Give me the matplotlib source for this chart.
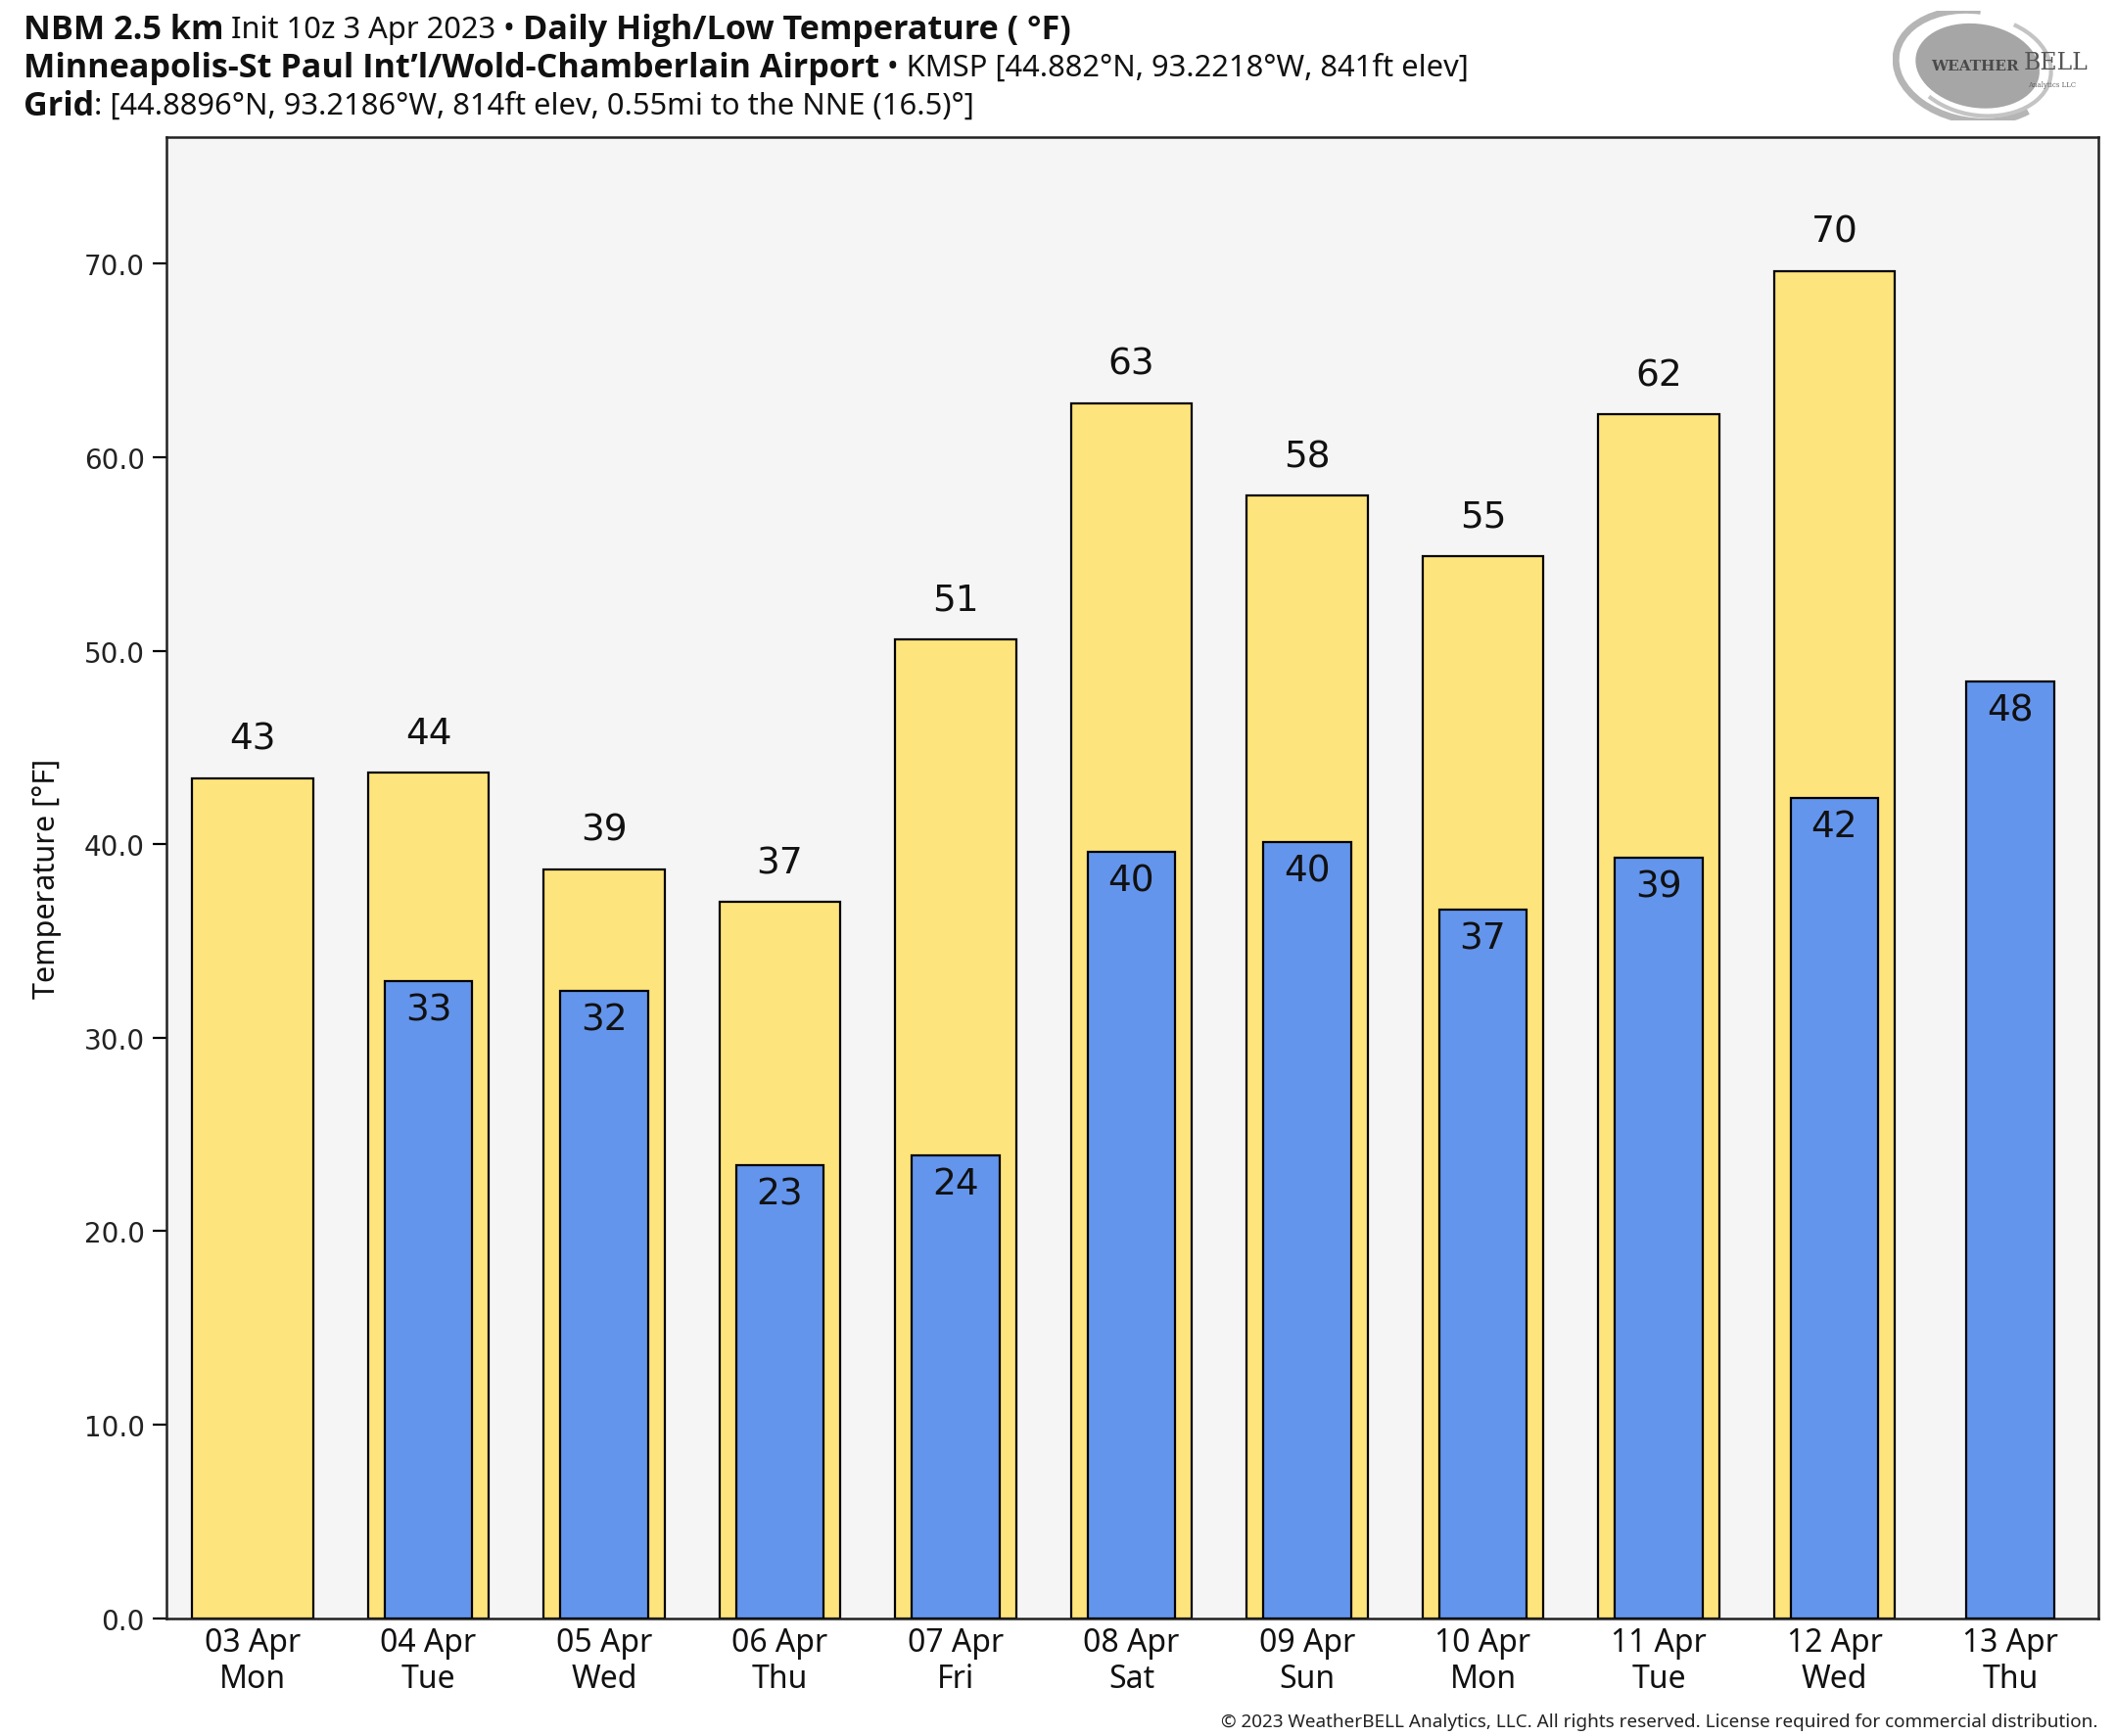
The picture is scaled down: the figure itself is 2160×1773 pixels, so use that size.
import matplotlib
matplotlib.use("Agg")
import matplotlib.pyplot as plt
from matplotlib.patches import Ellipse, Arc
from matplotlib import font_manager as fm
import numpy as np

dates = ["03 Apr", "04 Apr", "05 Apr", "06 Apr", "07 Apr", "08 Apr",
         "09 Apr", "10 Apr", "11 Apr", "12 Apr", "13 Apr"]
weekdays = ["Mon", "Tue", "Wed", "Thu", "Fri", "Sat", "Sun", "Mon", "Tue", "Wed", "Thu"]
highs = [43.4, 43.7, 38.7, 37.0, 50.6, 62.8, 58.0, 54.9, 62.2, 69.6, None]
lows = [None, 32.9, 32.4, 23.4, 23.9, 39.6, 40.1, 36.6, 39.3, 42.4, 48.4]
yticks = [0, 10, 20, 30, 40, 50, 60, 70]

YELLOW = "#FDE47C"
BLUE = "#6495ED"
NOTO = ["Noto Sans", "DejaVu Sans"]

# find a bold face for the title
bold_family = None
for cand in ["Noto Sans", "Open Sans", "Lato", "DejaVu Sans"]:
    for f in fm.fontManager.ttflist:
        w = f.weight if isinstance(f.weight, int) else fm.weight_dict.get(f.weight, 400)
        if f.name == cand and w >= 600 and f.style == "normal":
            bold_family = cand
            break
    if bold_family:
        break
if bold_family is None:
    bold_family = "DejaVu Sans"

fig = plt.figure(figsize=(10.8, 8.87), dpi=200)
fig.patch.set_facecolor("white")
ax = fig.add_axes([0.0787, 0.0679, 0.9133, 0.8528])
ax.set_facecolor("#F5F5F5")

x = np.arange(len(dates))
for i in x:
    h = highs[i]
    if h is not None:
        ax.bar(i, h, width=0.69, color=YELLOW, edgecolor="black", linewidth=0.8, zorder=2)
        ax.annotate(f"{round(h):d}", (i, h), xytext=(0, 8), textcoords="offset points",
                    ha="center", va="bottom", fontsize=13.5, family="DejaVu Sans", color="#111111")
for i in x:
    l = lows[i]
    if l is not None:
        ax.bar(i, l, width=0.5, color=BLUE, edgecolor="black", linewidth=0.8, zorder=3)
        ax.annotate(f"{round(l):d}", (i, l), xytext=(0, -4), textcoords="offset points",
                    ha="center", va="top", fontsize=13.5, family="DejaVu Sans", color="#111111",
                    zorder=4)

valid_highs = [h for h in highs if h is not None]
ax.set_ylim(0, max(valid_highs) * 1.1)
ax.set_xlim(-0.49, len(dates) - 0.5)
ax.set_yticks(yticks)
ax.set_yticklabels([f"{t:.1f}" for t in yticks], family="DejaVu Sans", fontsize=10, color="#222222")
ax.set_xticks(x)
ax.set_xticklabels([f"{d}\n{w}" for d, w in zip(dates, weekdays)], family=NOTO, fontsize=11.5,
                   linespacing=1.15, color="#111111")
ax.tick_params(axis="x", length=0, pad=3)
ax.tick_params(axis="y", length=5, width=0.8, pad=3)
for s in ax.spines.values():
    s.set_linewidth(0.9)
    s.set_color("#222222")
ax.set_ylabel("Temperature [°F]", family=NOTO, fontsize=11, color="#111111", labelpad=8)

# Title lines with mixed weights
fig.canvas.draw()
renderer = fig.canvas.get_renderer()
title_lines = [
    [("NBM 2.5 km", "bold"), (" Init 10z 3 Apr 2023 • ", "normal"),
     ("Daily High/Low Temperature ( °F)", "bold")],
    [("Minneapolis-St Paul Int’l/Wold-Chamberlain Airport", "bold"),
     (" • KMSP [44.882°N, 93.2218°W, 841ft elev]", "normal")],
    [("Grid", "bold"), (": [44.8896°N, 93.2186°W, 814ft elev, 0.55mi to the NNE (16.5)°]", "normal")],
]
ys = [0.9827, 0.9608, 0.9388]
inv = fig.transFigure.inverted()
for line, yy in zip(title_lines, ys):
    xx = 0.011
    for txt, wt in line:
        if wt == "bold":
            fam, fs = [bold_family, "DejaVu Sans"], 12.3
        else:
            fam, fs = NOTO, 11.1
        t = fig.text(xx, yy, txt, family=fam, fontweight=wt, fontsize=fs,
                     ha="left", va="center", color="#111111")
        bb = t.get_window_extent(renderer=renderer)
        xx = inv.transform((bb.x1, bb.y1))[0]

fig.text(0.992, 0.0085, "© 2023 WeatherBELL Analytics, LLC. All rights reserved. License required for commercial distribution.",
         family=NOTO, fontsize=6.8, ha="right", va="center", color="#222222")

# Logo
lax = fig.add_axes([0.895, 0.93, 0.097, 0.063])
lax.set_xlim(0, 1.6)
lax.set_ylim(0, 1)
lax.axis("off")
lax.add_patch(Ellipse((0.66, 0.5), 0.98, 0.76, angle=-15, facecolor="#A6A6A6", edgecolor="none"))
lax.add_patch(Arc((0.64, 0.5), 1.25, 1.0, angle=-15, theta1=100, theta2=330, color="#B5B5B5", lw=2.5))
lax.add_patch(Arc((0.68, 0.5), 1.12, 0.9, angle=-15, theta1=230, theta2=70, color="#C4C4C4", lw=1.5))
lax.text(0.3, 0.5, "WEATHER", family="DejaVu Serif", fontsize=5.5, color="#4A4A4A", va="center", ha="left",
         fontweight="bold")
lax.text(1.02, 0.53, "BELL", family="DejaVu Serif", fontsize=8.5, color="#555555", va="center", ha="left")
lax.text(1.05, 0.33, "Analytics LLC", family="DejaVu Serif", fontsize=2.5, color="#666666", va="center",
         ha="left")

fig.savefig("out.png", dpi=200, facecolor="white")
